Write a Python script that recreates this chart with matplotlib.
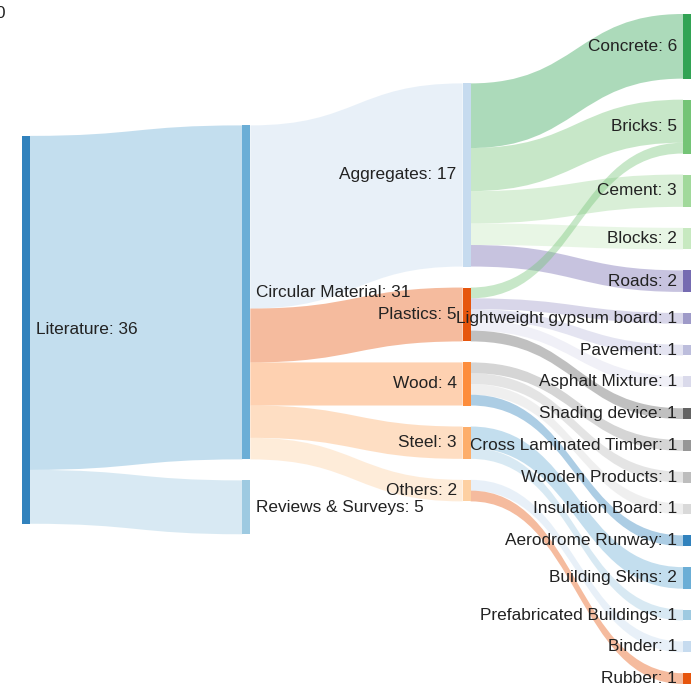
import numpy as np
import matplotlib
matplotlib.use("Agg")
import matplotlib.pyplot as plt
from matplotlib.path import Path
from matplotlib.patches import PathPatch, Rectangle

# ---- data -------------------------------------------------------------
node_names = [
    "Literature", "Circular Material", "Reviews & Surveys",
    "Aggregates", "Plastics", "Wood", "Steel", "Others",
    "Concrete", "Bricks", "Cement", "Blocks", "Roads",
    "Lightweight gypsum board", "Pavement", "Asphalt Mixture",
    "Shading device", "Cross Laminated Timber", "Wooden Products",
    "Insulation Board", "Aerodrome Runway", "Building Skins",
    "Prefabricated Buildings", "Binder", "Rubber",
]

link_source = ["Literature", "Literature",
               "Circular Material", "Circular Material", "Circular Material",
               "Circular Material", "Circular Material",
               "Aggregates", "Aggregates", "Aggregates", "Aggregates", "Aggregates",
               "Plastics", "Plastics", "Plastics", "Plastics", "Plastics",
               "Wood", "Wood", "Wood", "Wood",
               "Steel", "Steel",
               "Others", "Others"]
link_target = ["Circular Material", "Reviews & Surveys",
               "Aggregates", "Plastics", "Wood", "Steel", "Others",
               "Concrete", "Bricks", "Cement", "Blocks", "Roads",
               "Bricks", "Lightweight gypsum board", "Pavement", "Asphalt Mixture",
               "Shading device",
               "Cross Laminated Timber", "Wooden Products", "Insulation Board",
               "Aerodrome Runway",
               "Building Skins", "Prefabricated Buildings",
               "Binder", "Rubber"]
link_value = [31, 5,
              17, 5, 4, 3, 2,
              6, 4, 3, 2, 2,
              1, 1, 1, 1, 1,
              1, 1, 1, 1,
              2, 1,
              1, 1]

# d3 category20c, handed out to nodes in order
palette = ["#3182bd", "#6baed6", "#9ecae1", "#c6dbef", "#e6550d", "#fd8d3c",
           "#fdae6b", "#fdd0a2", "#31a354", "#74c476", "#a1d99b", "#c7e9c0",
           "#756bb1", "#9e9ac8", "#bcbddc", "#dadaeb", "#636363", "#969696",
           "#bdbdbd", "#d9d9d9"]

# ---- layout (d3-sankey style, one relaxation pass) --------------------
W, H = 691, 689
x_left, x_right = 22, 691
y_top, y_bot = 14, 684
node_w = 8
pad = 21
iterations = 1

n = len(node_names)
idx = {name: i for i, name in enumerate(node_names)}
src = [idx[s] for s in link_source]
tgt = [idx[t] for t in link_target]
val = link_value

out_links = [[] for _ in range(n)]
in_links = [[] for _ in range(n)]
for k in range(len(val)):
    out_links[src[k]].append(k)
    in_links[tgt[k]].append(k)

node_val = [max(sum(val[k] for k in in_links[i]), sum(val[k] for k in out_links[i]))
            for i in range(n)]

depth = [0] * n
for _ in range(n):
    for k in range(len(val)):
        depth[tgt[k]] = max(depth[tgt[k]], depth[src[k]] + 1)
n_cols = max(depth) + 1
columns = [[i for i in range(n) if depth[i] == c] for c in range(n_cols)]
kx = (x_right - x_left - node_w) / (n_cols - 1)
nx0 = [x_left + depth[i] * kx for i in range(n)]

ky = min((y_bot - y_top - (len(col) - 1) * pad) / sum(node_val[i] for i in col)
         for col in columns)
lw = [v * ky for v in val]
y0 = [0.0] * n
y1 = [0.0] * n


def shift(i, dy):
    y0[i] += dy
    y1[i] += dy


def reorder_node_links(i):
    for k in in_links[i]:
        out_links[src[k]].sort(key=lambda m: (y0[tgt[m]], m))
    for k in out_links[i]:
        in_links[tgt[k]].sort(key=lambda m: (y0[src[m]], m))


# spread every column evenly to start with
for col in columns:
    y = y_top
    for i in col:
        y0[i] = y
        y1[i] = y + node_val[i] * ky
        y = y1[i] + pad
    gap = (y_bot - y + pad) / (len(col) + 1)
    for j, i in enumerate(col):
        shift(i, gap * (j + 1))
    for i in col:
        out_links[i].sort(key=lambda k: (y0[tgt[k]], k))
        in_links[i].sort(key=lambda k: (y0[src[k]], k))


def target_top(s, t):
    y = y0[s] - (len(out_links[s]) - 1) * pad / 2
    for k in out_links[s]:
        if tgt[k] == t:
            break
        y += lw[k] + pad
    for k in in_links[t]:
        if src[k] == s:
            break
        y -= lw[k]
    return y


def source_top(s, t):
    y = y0[t] - (len(in_links[t]) - 1) * pad / 2
    for k in in_links[t]:
        if src[k] == s:
            break
        y += lw[k] + pad
    for k in out_links[s]:
        if tgt[k] == t:
            break
        y -= lw[k]
    return y


def push_down(col, y, j, a):
    while j < len(col):
        i = col[j]
        dy = (y - y0[i]) * a
        if dy > 1e-6:
            shift(i, dy)
        y = y1[i] + pad
        j += 1


def push_up(col, y, j, a):
    while j >= 0:
        i = col[j]
        dy = (y1[i] - y) * a
        if dy > 1e-6:
            shift(i, -dy)
        y = y0[i] - pad
        j -= 1


def resolve(col, a):
    m = len(col) >> 1
    subject = col[m]
    push_up(col, y0[subject] - pad, m - 1, a)
    push_down(col, y1[subject] + pad, m + 1, a)
    push_up(col, y_bot, len(col) - 1, a)
    push_down(col, y_top, 0, a)


for it in range(iterations):
    alpha = 0.99 ** it
    beta = max(1 - alpha, (it + 1) / iterations)
    # right to left
    for c in range(n_cols - 2, -1, -1):
        col = columns[c]
        for s in col:
            yy = w = 0.0
            for k in out_links[s]:
                v = val[k] * (depth[tgt[k]] - depth[s])
                yy += source_top(s, tgt[k]) * v
                w += v
            if w > 0:
                shift(s, (yy / w - y0[s]) * alpha)
                reorder_node_links(s)
        resolve(col, beta)
    # left to right
    for c in range(1, n_cols):
        col = columns[c]
        for t in col:
            yy = w = 0.0
            for k in in_links[t]:
                v = val[k] * (depth[t] - depth[src[k]])
                yy += target_top(src[k], t) * v
                w += v
            if w > 0:
                shift(t, (yy / w - y0[t]) * alpha)
                reorder_node_links(t)
        resolve(col, beta)

# link offsets at both ends
ly_s = [0.0] * len(val)
ly_t = [0.0] * len(val)
for i in range(n):
    y = y0[i]
    for k in out_links[i]:
        ly_s[k] = y
        y += lw[k]
    y = y0[i]
    for k in in_links[i]:
        ly_t[k] = y
        y += lw[k]

# ---- drawing ----------------------------------------------------------
fig = plt.figure(figsize=(W / 100, H / 100), dpi=100)
ax = fig.add_axes([0, 0, 1, 1])
ax.set_xlim(0, W)
ax.set_ylim(H, 0)
ax.axis("off")

for k in range(len(val)):
    xa = nx0[src[k]] + node_w
    xb = nx0[tgt[k]]
    xm = (xa + xb) / 2
    a0, a1 = ly_s[k], ly_s[k] + lw[k]
    b0, b1 = ly_t[k], ly_t[k] + lw[k]
    verts = [(xa, a0), (xm, a0), (xm, b0), (xb, b0),
             (xb, b1), (xm, b1), (xm, a1), (xa, a1), (xa, a0)]
    codes = [Path.MOVETO, Path.CURVE4, Path.CURVE4, Path.CURVE4,
             Path.LINETO, Path.CURVE4, Path.CURVE4, Path.CURVE4, Path.CLOSEPOLY]
    ax.add_patch(PathPatch(Path(verts, codes), facecolor=palette[tgt[k] % len(palette)],
                           edgecolor="none", alpha=0.4, zorder=1))

for i in range(n):
    ax.add_patch(Rectangle((nx0[i], y0[i]), node_w, y1[i] - y0[i],
                           facecolor=palette[i % len(palette)], edgecolor="none", zorder=2))
    label = f"{node_names[i]}: {node_val[i]}"
    yc = (y0[i] + y1[i]) / 2
    if nx0[i] < W / 2:
        ax.text(nx0[i] + node_w + 6, yc, label, ha="left", va="center",
                fontsize=12.4, family="Liberation Sans", color="#222222", zorder=3)
    else:
        ax.text(nx0[i] - 6, yc, label, ha="right", va="center",
                fontsize=12.4, family="Liberation Sans", color="#222222", zorder=3)

# clipped glyph at the top-left corner of the crop
fig.text(0, 1 - 14 / H, "0", ha="center", va="center", fontsize=12.4,
         family="Liberation Sans", color="#222222")

fig.savefig("out.png", dpi=100)
